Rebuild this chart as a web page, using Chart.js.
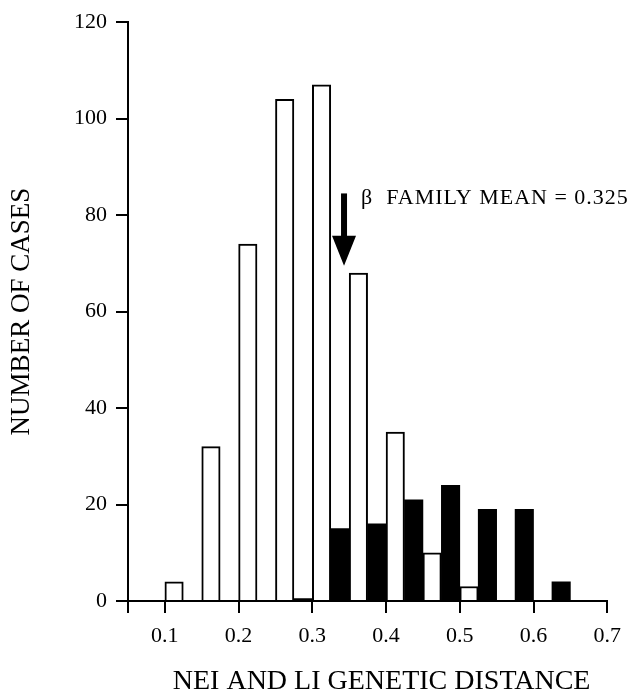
<!DOCTYPE html>
<html>
<head>
<meta charset="utf-8">
<script src="https://cdn.jsdelivr.net/npm/chart.js@4"></script>
<style>
  html, body { margin: 0; padding: 0; background: #fff; }
  canvas { display: block; }
</style>
</head>
<body>
<canvas id="histChart" width="631" height="696"></canvas>
<script>
// Histogram bins (centre of each 0.05 wide bin)
const binCenters = [0.125, 0.175, 0.225, 0.275, 0.325, 0.375, 0.425, 0.475, 0.525, 0.575, 0.625];
// open bars
const allCases = [4, 32, 74, 104, 107, 68, 35, 10, 3, 0, 0];
// filled bars
const betaCases = [0, 0, 0, 0.5, 15, 16, 21, 24, 19, 19, 4];

const xTicks = [0.1, 0.2, 0.3, 0.4, 0.5, 0.6, 0.7];
const yTicks = [0, 20, 40, 60, 80, 100, 120];

// arrow marking the family mean
const meanLabel = 'β  FAMILY MEAN = 0.325';
const arrowX = 0.343;
const arrowTop = 84.5;
const arrowTip = 69.5;
const labelX = 0.366;
const labelY = 83.5;

const serif = "'Liberation Serif', 'Times New Roman', serif";

function toPoints(values) {
    return binCenters.map((x, i) => ({ x: x, y: values[i] }));
}

// draws the arrow and its label in data coordinates
const meanArrow = {
    id: 'meanArrow',
    afterDatasetsDraw(chart) {
        const ctx = chart.ctx;
        const xs = chart.scales.x, ys = chart.scales.y;
        const ax = xs.getPixelForValue(arrowX);
        const top = ys.getPixelForValue(arrowTop);
        const tip = ys.getPixelForValue(arrowTip);
        const headLen = 30;
        ctx.save();
        ctx.fillStyle = '#000';
        ctx.fillRect(ax - 3, top, 6, tip - top - headLen + 2);
        ctx.beginPath();
        ctx.moveTo(ax - 12, tip - headLen);
        ctx.lineTo(ax + 12, tip - headLen);
        ctx.lineTo(ax, tip);
        ctx.closePath();
        ctx.fill();

        ctx.font = '22px ' + serif;
        ctx.letterSpacing = '1px';
        ctx.textBaseline = 'middle';
        ctx.textAlign = 'left';
        ctx.fillText(meanLabel, xs.getPixelForValue(labelX), ys.getPixelForValue(labelY));
        ctx.restore();
    }
};

new Chart(document.getElementById('histChart').getContext('2d'), {
    type: 'bar',
    data: {
        datasets: [{
            label: 'All comparisons',
            data: toPoints(allCases),
            backgroundColor: '#fff',
            borderColor: '#000',
            borderWidth: 2,
            borderSkipped: 'start',
            barPercentage: 1,
            categoryPercentage: 1
        }, {
            label: 'Beta family',
            data: toPoints(betaCases),
            backgroundColor: '#000',
            borderWidth: 0,
            barPercentage: 1,
            categoryPercentage: 1
        }]
    },
    options: {
        responsive: false,
        animation: false,
        layout: { padding: { top: 16, right: 21, bottom: 0, left: 0 } },
        plugins: {
            legend: { display: false },
            tooltip: { enabled: false }
        },
        scales: {
            x: {
                type: 'linear',
                min: 0.05,
                max: 0.7,
                offset: false,
                grid: {
                    offset: false,
                    drawOnChartArea: false,
                    drawTicks: true,
                    tickLength: 12,
                    color: '#000',
                    lineWidth: 2
                },
                border: { display: true, color: '#000', width: 2 },
                afterBuildTicks: function(scale) {
                    // unlabelled tick at the left end, then 0.1 ... 0.7
                    scale.ticks = [0.05].concat(xTicks).map(v => ({ value: v }));
                },
                ticks: {
                    padding: 10,
                    color: '#000',
                    font: { family: serif, size: 22 },
                    maxRotation: 0,
                    autoSkip: false,
                    callback: function(value) {
                        const hit = xTicks.find(t => Math.abs(t - value) < 1e-6);
                        return hit === undefined ? '' : hit.toFixed(1);
                    }
                },
                title: {
                    display: true,
                    text: '    NEI AND LI GENETIC DISTANCE',
                    color: '#000',
                    font: { family: serif, size: 28, lineHeight: 1 },
                    padding: 0
                },
                afterFit: function(scale) { scale.height = 95; }
            },
            y: {
                min: 0,
                max: 120,
                grid: {
                    drawOnChartArea: false,
                    drawTicks: true,
                    tickLength: 12,
                    color: '#000',
                    lineWidth: 2
                },
                border: { display: true, color: '#000', width: 2 },
                ticks: {
                    stepSize: 20,
                    padding: 9,
                    color: '#000',
                    font: { family: serif, size: 22 },
                    callback: function(value) {
                        return yTicks.includes(value) ? String(value) : '';
                    }
                },
                title: {
                    display: true,
                    text: 'NUMBER OF CASES',
                    color: '#000',
                    font: { family: serif, size: 27, lineHeight: 1.2 },
                    padding: { top: 6, bottom: 0 }
                },
                afterFit: function(scale) { scale.width = 128; }
            }
        }
    },
    plugins: [meanArrow]
});
</script>
</body>
</html>
